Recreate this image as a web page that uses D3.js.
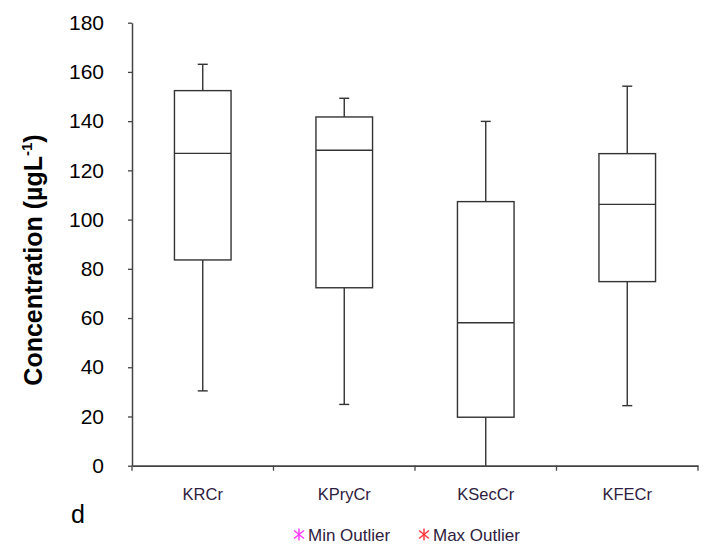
<!DOCTYPE html>
<html>
<head>
<meta charset="utf-8">
<script src="https://cdn.jsdelivr.net/npm/d3@7"></script>
<style>
  html, body { margin: 0; padding: 0; background: #fff; }
  svg { display: block; }
</style>
</head>
<body>
<svg id="chart" width="712" height="546"></svg>
<script>
const categories = ["KRCr", "KPryCr", "KSecCr", "KFECr"];
const minValues    = [30.4, 24.9, 0,     24.4];
const q1Values     = [83.6, 72.3, 19.7,  74.8];
const medianValues = [126.9, 128.2, 58.1, 106.2];
const q3Values     = [152.4, 141.7, 107.3, 126.8];
const maxValues    = [163.1, 149.3, 139.9, 154.2];
const yTicks = [0, 20, 40, 60, 80, 100, 120, 140, 160, 180];
const legendLabels = ["Min Outlier", "Max Outlier"];
const legendColors = ["#ff33ff", "#ff3333"];

const svg = d3.select("#chart");
const axisColor = "#444";
const boxColor = "#333";
const labelColor = "#2e2040";
const font = "Liberation Sans, Arial, sans-serif";

const x = d3.scaleBand().domain(categories).range([132, 698]).paddingInner(0).paddingOuter(0);
const y = d3.scaleLinear().domain([0, 180]).range([465.7, 22.7]);

const data = categories.map((c, i) => ({
  cat: c, min: minValues[i], q1: q1Values[i], med: medianValues[i], q3: q3Values[i], max: maxValues[i]
}));

// Y axis
const yAxis = d3.axisLeft(y).tickValues(yTicks).tickSize(4).tickPadding(24).tickSizeOuter(0);
const gy = svg.append("g").attr("transform", "translate(132,0)").call(yAxis);
gy.select(".domain").attr("stroke", axisColor).attr("stroke-width", 1.5);
gy.selectAll(".tick line").attr("stroke", axisColor).attr("stroke-width", 1.3);
gy.selectAll(".tick text").attr("fill", "#000")
  .style("font-family", font).style("font-size", "21px");

// X axis
const xAxis = d3.axisBottom(x).tickSize(0).tickSizeOuter(0).tickFormat(d => d);
const gx = svg.append("g").attr("transform", `translate(0,${y(0)})`).call(xAxis);
gx.select(".domain").attr("stroke", axisColor).attr("stroke-width", 1.8);
gx.selectAll(".tick text").attr("fill", labelColor).attr("dy", 0).attr("y", 34)
  .style("font-family", font).style("font-size", "16.5px");
const boundaries = categories.map(c => x(c)).concat([x.range()[1]]);
gx.selectAll("line.btick").data(boundaries).enter().append("line")
  .attr("class", "btick")
  .attr("x1", d => d).attr("x2", d => d).attr("y1", 0).attr("y2", 5)
  .attr("stroke", axisColor).attr("stroke-width", 1.3);

// Boxes
const bw = x.bandwidth() * 0.4;
const capW = 10;
const g = svg.append("g").selectAll("g.box").data(data).enter().append("g").attr("class", "box");
const cx = d => x(d.cat) + x.bandwidth() / 2;

g.append("line").attr("x1", cx).attr("x2", cx).attr("y1", d => y(d.q3)).attr("y2", d => y(d.max))
  .attr("stroke", boxColor).attr("stroke-width", 1.4);
g.append("line").attr("x1", cx).attr("x2", cx).attr("y1", d => y(d.q1)).attr("y2", d => y(d.min))
  .attr("stroke", boxColor).attr("stroke-width", 1.4);
g.append("line").attr("x1", d => cx(d) - capW / 2).attr("x2", d => cx(d) + capW / 2)
  .attr("y1", d => y(d.max)).attr("y2", d => y(d.max)).attr("stroke", boxColor).attr("stroke-width", 1.4);
g.filter(d => d.min > 0).append("line").attr("x1", d => cx(d) - capW / 2).attr("x2", d => cx(d) + capW / 2)
  .attr("y1", d => y(d.min)).attr("y2", d => y(d.min)).attr("stroke", boxColor).attr("stroke-width", 1.4);
g.append("rect").attr("x", d => cx(d) - bw / 2).attr("width", bw)
  .attr("y", d => y(d.q3)).attr("height", d => y(d.q1) - y(d.q3))
  .attr("fill", "none").attr("stroke", boxColor).attr("stroke-width", 1.4);
g.append("line").attr("x1", d => cx(d) - bw / 2).attr("x2", d => cx(d) + bw / 2)
  .attr("y1", d => y(d.med)).attr("y2", d => y(d.med)).attr("stroke", boxColor).attr("stroke-width", 1.4);

// Y title
svg.append("text")
  .attr("transform", `translate(42,260) rotate(-90)`)
  .attr("text-anchor", "middle")
  .style("font-family", font).style("font-size", "25px").style("font-weight", "bold")
  .attr("fill", "#000")
  .html('Concentration (µgL<tspan dy="-10" font-size="15px">-1</tspan><tspan dy="10">)</tspan>');

// "d" label
svg.append("text").attr("x", 71).attr("y", 523).text("d")
  .style("font-family", font).style("font-size", "25px").attr("fill", "#000");

// Legend
const legendX = [299, 424];
const lg = svg.append("g").selectAll("g").data(legendLabels).enter().append("g")
  .attr("transform", (d, i) => `translate(${legendX[i]},534.5)`);
lg.each(function(d, i) {
  const s = d3.select(this);
  const c = legendColors[i];
  s.append("line").attr("x1", 0).attr("x2", 0).attr("y1", -6).attr("y2", 6).attr("stroke", c).attr("stroke-width", 1.4);
  s.append("line").attr("x1", -5).attr("x2", 5).attr("y1", -4).attr("y2", 4).attr("stroke", c).attr("stroke-width", 1.4);
  s.append("line").attr("x1", -5).attr("x2", 5).attr("y1", 4).attr("y2", -4).attr("stroke", c).attr("stroke-width", 1.4);
});
lg.append("text").text(d => d).attr("x", 9).attr("y", 6)
  .attr("fill", labelColor)
  .style("font-family", font).style("font-size", "17px");
</script>
</body>
</html>
